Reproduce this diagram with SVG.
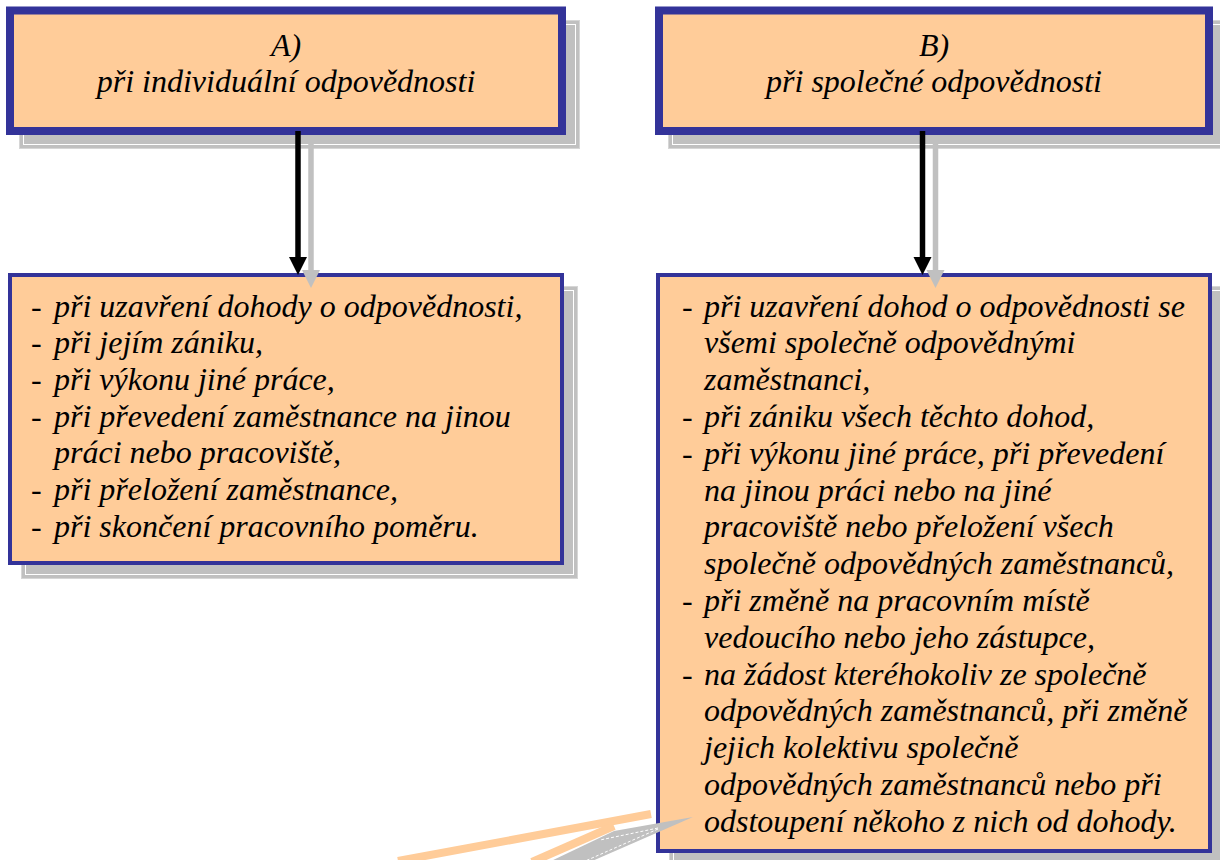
<svg xmlns="http://www.w3.org/2000/svg" width="1220" height="860" viewBox="0 0 1220 860">
<style>
.shadow{fill:#C0C0C0;stroke:#D6D6D6;stroke-width:1}
.shline{fill:none;stroke:#FFFFFF;stroke-width:1}
.box{fill:#FFCC99;stroke:#333399}
.thick{stroke-width:8}
.thin{stroke-width:4}
text{font-family:"Liberation Serif","Times New Roman",serif;font-style:italic;font-size:32px;fill:#000}
.c{text-anchor:middle}
</style>
<rect width="1220" height="860" fill="#FFFFFF"/>
<g id="nodeA">
<rect class="shadow" x="19.5" y="20.5" width="560" height="128"/>
<rect class="shline" x="23.5" y="24.5" width="552" height="120"/>
<rect class="box thick" x="10" y="10.5" width="552" height="120.5"/>
<text class="c" x="286" y="56">A)</text>
<text class="c" x="286" y="92">při individuální odpovědnosti</text>
</g>
<g id="nodeB">
<rect class="shadow" x="668.5" y="20.5" width="560" height="128"/>
<rect class="shline" x="672.5" y="24.5" width="552" height="120"/>
<rect class="box thick" x="659" y="10.5" width="550" height="120.5"/>
<text class="c" x="934" y="56">B)</text>
<text class="c" x="934" y="92">při společné odpovědnosti</text>
</g>
<g id="nodeA2">
<rect class="shadow" x="21.5" y="286.5" width="556" height="292"/>
<rect class="shline" x="25.5" y="290.5" width="548" height="284"/>
<rect class="box thin" x="10" y="275" width="552" height="288"/>
<text x="31" y="316.5">-</text><text x="54" y="316.5">při uzavření dohody o odpovědnosti,</text>
<text x="31" y="353.2">-</text><text x="54" y="353.2">při jejím zániku,</text>
<text x="31" y="389.9">-</text><text x="54" y="389.9">při výkonu jiné práce,</text>
<text x="31" y="426.6">-</text><text x="54" y="426.6">při převedení zaměstnance na jinou</text>
<text x="54" y="463.3">práci nebo pracoviště,</text>
<text x="31" y="500">-</text><text x="54" y="500">při přeložení zaměstnance,</text>
<text x="31" y="536.7">-</text><text x="54" y="536.7">při skončení pracovního poměru.</text>
</g>
<g id="nodeB2">
<rect class="shadow" x="669.5" y="286.5" width="556" height="580"/>
<rect class="shline" x="673.5" y="290.5" width="548" height="572"/>
<rect class="box thin" x="658" y="275" width="552" height="576"/>
<text x="682" y="316.5">-</text><text x="704" y="316.5">při uzavření dohod o odpovědnosti se</text>
<text x="704" y="353.3">všemi společně odpovědnými</text>
<text x="704" y="390.1">zaměstnanci,</text>
<text x="682" y="426.9">-</text><text x="704" y="426.9">při zániku všech těchto dohod,</text>
<text x="682" y="463.7">-</text><text x="704" y="463.7">při výkonu jiné práce, při převedení</text>
<text x="704" y="500.5">na jinou práci nebo na jiné</text>
<text x="704" y="537.3">pracoviště nebo přeložení všech</text>
<text x="704" y="574.1">společně odpovědných zaměstnanců,</text>
<text x="682" y="610.9">-</text><text x="704" y="610.9">při změně na pracovním místě</text>
<text x="704" y="647.7">vedoucího nebo jeho zástupce,</text>
<text x="682" y="684.5">-</text><text x="704" y="684.5">na žádost kteréhokoliv ze společně</text>
<text x="704" y="721.3">odpovědných zaměstnanců, při změně</text>
<text x="704" y="758.1">jejich kolektivu společně</text>
<text x="704" y="794.9">odpovědných zaměstnanců nebo při</text>
<text x="704" y="831.7">odstoupení někoho z nich od dohody.</text>
</g>
<g id="connectors">
<line x1="311" y1="143" x2="311" y2="272" stroke="#C0C0C0" stroke-width="5.5"/>
<polygon points="302,270 320,270 311,288" fill="#C0C0C0"/>
<line x1="298" y1="131" x2="298" y2="259" stroke="#000" stroke-width="5.5"/>
<polygon points="289,257 307,257 298,275" fill="#000"/>
<line x1="935.5" y1="143" x2="935.5" y2="272" stroke="#C0C0C0" stroke-width="5.5"/>
<polygon points="926.5,270 944.5,270 935.5,288" fill="#C0C0C0"/>
<line x1="922.5" y1="131" x2="922.5" y2="259" stroke="#000" stroke-width="5.5"/>
<polygon points="913.5,257 931.5,257 922.5,275" fill="#000"/>
</g>
<g id="callout">
<polygon points="693,817 614,831 549,862 590,862" fill="#C0C0C0"/>
<polyline points="658,828 600,840" fill="none" stroke="#FFFFFF" stroke-width="1" stroke-dasharray="3,2"/>
<polyline points="658,829 583,862" fill="none" stroke="#FFFFFF" stroke-width="1" stroke-dasharray="3,2"/>
<line x1="398" y1="861" x2="651" y2="814" stroke="#FFCC99" stroke-width="8"/>
<line x1="532" y1="862" x2="614" y2="826" stroke="#FFCC99" stroke-width="8"/>
</g>
</svg>
